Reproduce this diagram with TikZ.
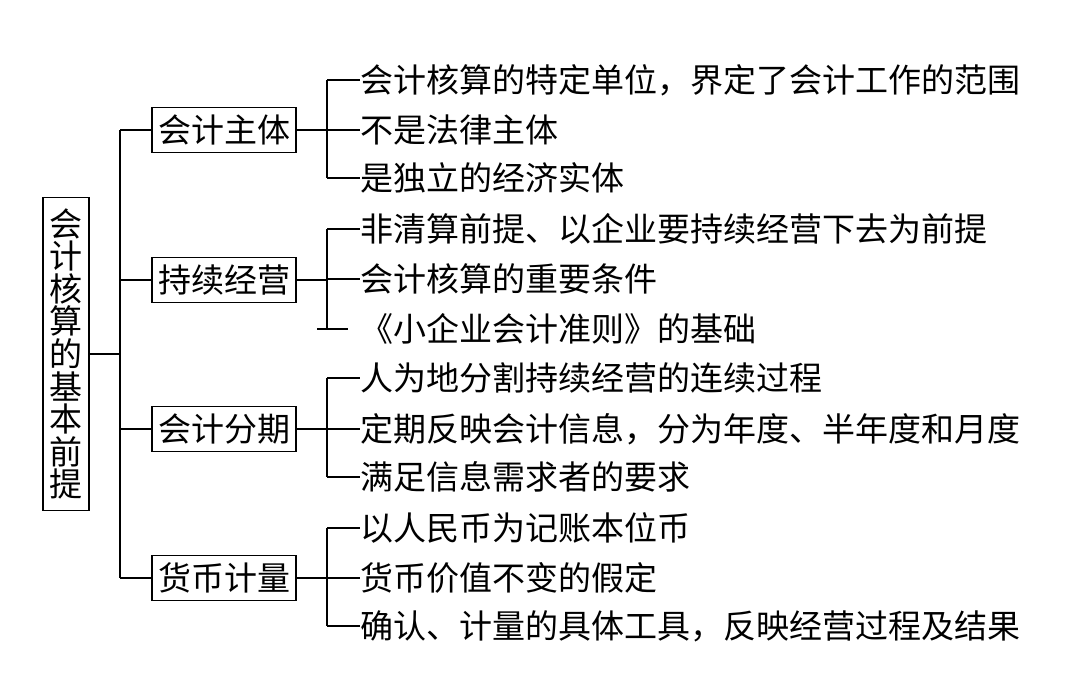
\documentclass[tikz,border=0pt]{standalone}
\usepackage{fontspec}
\newfontfamily\cjkfont{Noto Sans CJK SC}
\usetikzlibrary{positioning}
\tikzset{
  rootbox/.style={draw,font=\cjkfont\fontsize{16.5}{16.3}\selectfont,align=center,inner xsep=3.2pt,inner ysep=5.4pt},
  topicbox/.style={draw,font=\cjkfont\fontsize{16.5}{18}\selectfont,minimum width=72pt,minimum height=22.5pt,inner sep=2pt},
  leaf/.style={anchor=west,inner sep=0pt,font=\cjkfont\fontsize{16.5}{18}\selectfont},
}
\begin{document}
\begin{tikzpicture}[x=0.5pt,y=-0.5pt,line width=0.7pt]
    \useasboundingbox (0,0) rectangle (1079,676);
    % root and topics
    \node[rootbox] (root) at (66,354) {会\\计\\核\\算\\的\\基\\本\\前\\提};
    \node[topicbox] (entity) at (224,130) {会计主体};
    \node[topicbox] (going) at (224,280) {持续经营};
    \node[topicbox] (period) at (224,429) {会计分期};
    \node[topicbox] (money) at (224,578) {货币计量};
    \coordinate (trunk) at (120,354);
    \coordinate (spine) at (327,354);
    % leaves
    \node[leaf] (entityA) at (360,80) {会计核算的特定单位，界定了会计工作的范围};
    \node[leaf] (entityB) at (360,130) {不是法律主体};
    \node[leaf] (entityC) at (360,178) {是独立的经济实体};
    \node[leaf] (goingA) at (360,229) {非清算前提、以企业要持续经营下去为前提};
    \node[leaf] (goingB) at (360,279) {会计核算的重要条件};
    \node[leaf] (goingC) at (360,329) {《小企业会计准则》的基础};
    \node[leaf] (periodA) at (360,378) {人为地分割持续经营的连续过程};
    \node[leaf] (periodB) at (360,429) {定期反映会计信息，分为年度、半年度和月度};
    \node[leaf] (periodC) at (360,477) {满足信息需求者的要求};
    \node[leaf] (moneyA) at (360,528) {以人民币为记账本位币};
    \node[leaf] (moneyB) at (360,578) {货币价值不变的假定};
    \node[leaf] (moneyC) at (360,626) {确认、计量的具体工具，反映经营过程及结果};
    % trunk
    \draw (root.east) -- (trunk);
    \draw (entity.west -| trunk) -- (money.west -| trunk);
    \draw (entity.west -| trunk) -- (entity.west);
    \draw (going.west -| trunk) -- (going.west);
    \draw (period.west -| trunk) -- (period.west);
    \draw (money.west -| trunk) -- (money.west);
    % branches
    \draw (entity.east) -- (entity.east -| spine);
    \draw (entityA.west -| spine) -- (entityC.west -| spine);
    \draw (entityA.west -| spine) -- (entityA.west);
    \draw (entityB.west -| spine) -- (entityB.west);
    \draw (entityC.west -| spine) -- (entityC.west);
    \draw (going.east) -- (going.east -| spine);
    \draw (goingA.west -| spine) -- (goingC.west -| spine);
    \draw (goingA.west -| spine) -- (goingA.west);
    \draw (goingB.west -| spine) -- (goingB.west);
    \draw ([xshift=-5pt]goingC.west -| spine) -- ([xshift=10.5pt]goingC.west -| spine);
    \draw (period.east) -- (period.east -| spine);
    \draw (periodA.west -| spine) -- (periodC.west -| spine);
    \draw (periodA.west -| spine) -- (periodA.west);
    \draw (periodB.west -| spine) -- (periodB.west);
    \draw (periodC.west -| spine) -- (periodC.west);
    \draw (money.east) -- (money.east -| spine);
    \draw (moneyA.west -| spine) -- (moneyC.west -| spine);
    \draw (moneyA.west -| spine) -- (moneyA.west);
    \draw (moneyB.west -| spine) -- (moneyB.west);
    \draw (moneyC.west -| spine) -- (moneyC.west);
\end{tikzpicture}
\end{document}
